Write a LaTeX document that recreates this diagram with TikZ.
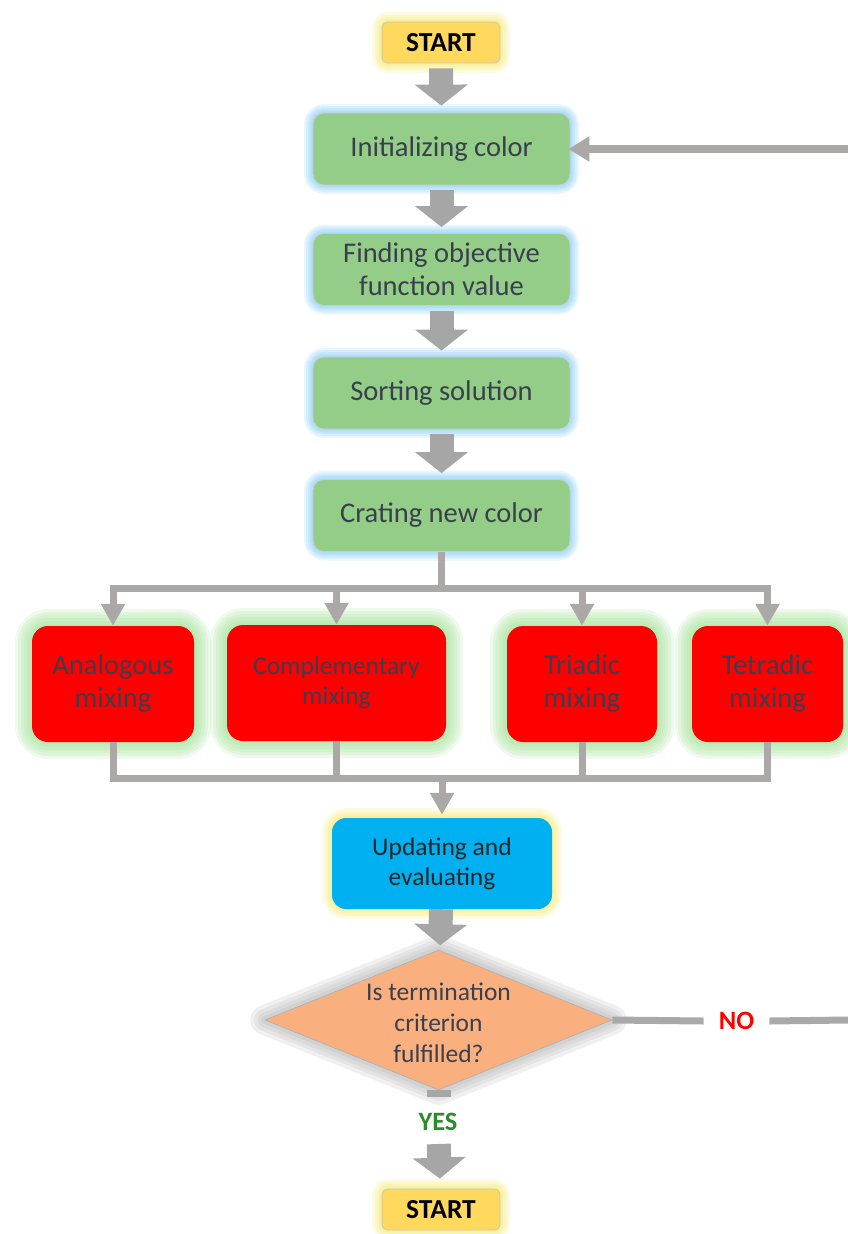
\documentclass[tikz,border=0pt]{standalone}
\usepackage{fontspec}
\setmainfont{Carlito}
\usetikzlibrary{arrows.meta,shapes.geometric}
\definecolor{gfill}{HTML}{93CD87}
\definecolor{txt}{HTML}{3A3F4E}
\definecolor{bglow}{HTML}{7CC8F8}
\definecolor{gglow}{HTML}{9BE08F}
\definecolor{yglow}{HTML}{F2E860}
\definecolor{sfill}{HTML}{FFD85E}
\definecolor{ufill}{HTML}{00B0F0}
\definecolor{dfill}{HTML}{FAB07E}
\definecolor{arrowgray}{HTML}{A6A6A6}
\definecolor{linegray}{HTML}{ADA8A8}
\definecolor{yesgreen}{HTML}{2D8A2D}
\definecolor{shadowgray}{HTML}{A8A8A8}
\begin{document}
\begin{tikzpicture}[x=1pt,y=-1pt,
  every node/.style={inner sep=0pt},
  gl/.style 2 args={preaction={draw=#1,line width=#2,opacity=.17,line join=round}},
  glowblue/.style={gl={bglow}{18pt},gl={bglow}{14pt},gl={bglow}{10pt},gl={bglow}{7pt},gl={bglow}{4pt}},
  glowgreen/.style={gl={gglow}{34pt},gl={gglow}{28pt},gl={gglow}{22pt},gl={gglow}{16pt},gl={gglow}{10pt},gl={gglow}{5pt}},
  glowyellow/.style={gl={yglow}{20pt},gl={yglow}{15pt},gl={yglow}{11pt},gl={yglow}{7pt},gl={yglow}{4pt}},
  glowgray/.style={gl={shadowgray}{30pt},gl={shadowgray}{22pt},gl={shadowgray}{15pt},gl={shadowgray}{8pt}},
  startbox/.style={rectangle,rounded corners=6pt,fill=sfill,draw=gray!45,line width=.8pt,
                   minimum width=118pt,minimum height=41pt,glowyellow,
                   font=\fontsize{27.5}{30}\selectfont\bfseries,text=black},
  greenbox/.style={rectangle,rounded corners=11pt,fill=gfill,draw=gray!40,line width=.8pt,
                   minimum width=257pt,minimum height=72pt,glowblue,align=center,
                   font=\fontsize{28.5}{33}\selectfont,text=txt},
  redbox/.style={rectangle,rounded corners=16pt,fill=red,draw=none,
                 minimum height=116pt,glowgreen,align=center,
                 font=\fontsize{28.5}{33}\selectfont,text=txt},
  bluebox/.style={rectangle,rounded corners=14pt,fill=ufill,draw=none,
                  minimum width=220pt,minimum height=91pt,glowyellow,align=center,
                  font=\fontsize{25.5}{30}\selectfont,text=black!85},
  decision/.style={diamond,fill=dfill,draw=gray!60,line width=.8pt,
                   minimum width=347pt,minimum height=140pt,glowgray},
  blockarrow/.style={draw=arrowgray,line width=24pt,
                     -{Triangle[width=52pt,length=21pt]},arrowgray},
  thinline/.style={draw=linegray,line width=7pt},
  thinarrow/.style={draw=linegray,line width=7pt,-{Triangle[width=23pt,length=22pt]},linegray},
  lbl/.style={font=\fontsize{26.5}{30}\selectfont\bfseries}
]
\useasboundingbox (0,0) rectangle (848,1234);

% main column
\node[startbox] (s1) at (441,42.5) {START};
\node[greenbox] (init) at (441.5,149) {Initializing color};
\node[greenbox] (find) at (441.5,269.5) {Finding objective\\function value};
\node[greenbox] (sort) at (441.5,393) {Sorting solution};
\node[greenbox] (crate) at (441.5,515.5) {Crating new color};

% mixing boxes
\node[redbox,minimum width=162pt] (an) at (113,684) {Analogous\\mixing};
\node[redbox,minimum width=219pt,font=\fontsize{25.5}{30}\selectfont] (co) at (336.5,683) {Complementary\\mixing};
\node[redbox,minimum width=150pt] (tr) at (582,684) {Triadic\\mixing};
\node[redbox,minimum width=151pt] (te) at (767.5,684) {Tetradic\\mixing};

\node[bluebox] (up) at (442,863.5) {Updating and\\evaluating};
\node[decision] (q) at (438.5,1020) {};
\node[align=center,font=\fontsize{25.5}{31}\selectfont,text=txt] (qt) at (438.5,1023) {Is termination\\criterion\\fulfilled?};

\node[lbl,text=red,inner xsep=15pt] (no) at (736.5,1021) {NO};
\node[lbl,text=yesgreen] (yes) at (438,1122) {YES};
\node[startbox] (s2) at (441,1209.5) {START};

% block arrows
\draw[blockarrow,shorten <=5pt,shorten >=7pt] (s1) -- (init);
\draw[blockarrow,shorten <=5pt,shorten >=6pt] (init) -- (find);
\draw[blockarrow,shorten <=5pt,shorten >=6pt] (find) -- (sort);
\draw[blockarrow,shorten <=5pt,shorten >=6pt] (sort) -- (crate);
\draw[blockarrow,shorten >=5pt] (up) -- (q);
\draw[draw=arrowgray,line width=24pt] (q.south) -- ++(0,7);
\draw[blockarrow,shorten <=13pt,shorten >=10pt] (yes) -- (s2);

% split to the mixing strategies
\coordinate (jL) at (113,588);
\coordinate (jR) at (767.5,588);
\draw[thinline] (crate.south) -- (crate.south |- jL);
\draw[thinline,line cap=rect] (jL) -- (jR);
\draw[thinarrow] (jL) -- (an.north);
\draw[thinarrow] (co.north |- jL) -- (co.north);
\draw[thinarrow] (tr.north |- jL) -- (tr.north);
\draw[thinarrow] (jR) -- (te.north);

% merge
\coordinate (kL) at (113,778);
\coordinate (kR) at (767.5,778);
\draw[thinline] (an.south) -- (kL);
\draw[thinline] (co.south) -- (co.south |- kL);
\draw[thinline] (tr.south) -- (tr.south |- kL);
\draw[thinline] (te.south) -- (kR);
\draw[thinline,line cap=rect] (kL) -- (kR);
\draw[thinarrow,shorten >=3pt] (up.north |- kL) -- (up.north);

% NO branch and feedback
\coordinate (noEnd) at (848,1020);
\coordinate (fb) at (848,149);
\draw[thinline] (q.east) -- (no.west);
\draw[thinline] (no.east) -- (noEnd);
\draw[draw=linegray,line width=8pt,-{Triangle[width=24pt,length=21pt]},linegray,shorten >=-2pt] (fb) -- (init.east);
\end{tikzpicture}
\end{document}
